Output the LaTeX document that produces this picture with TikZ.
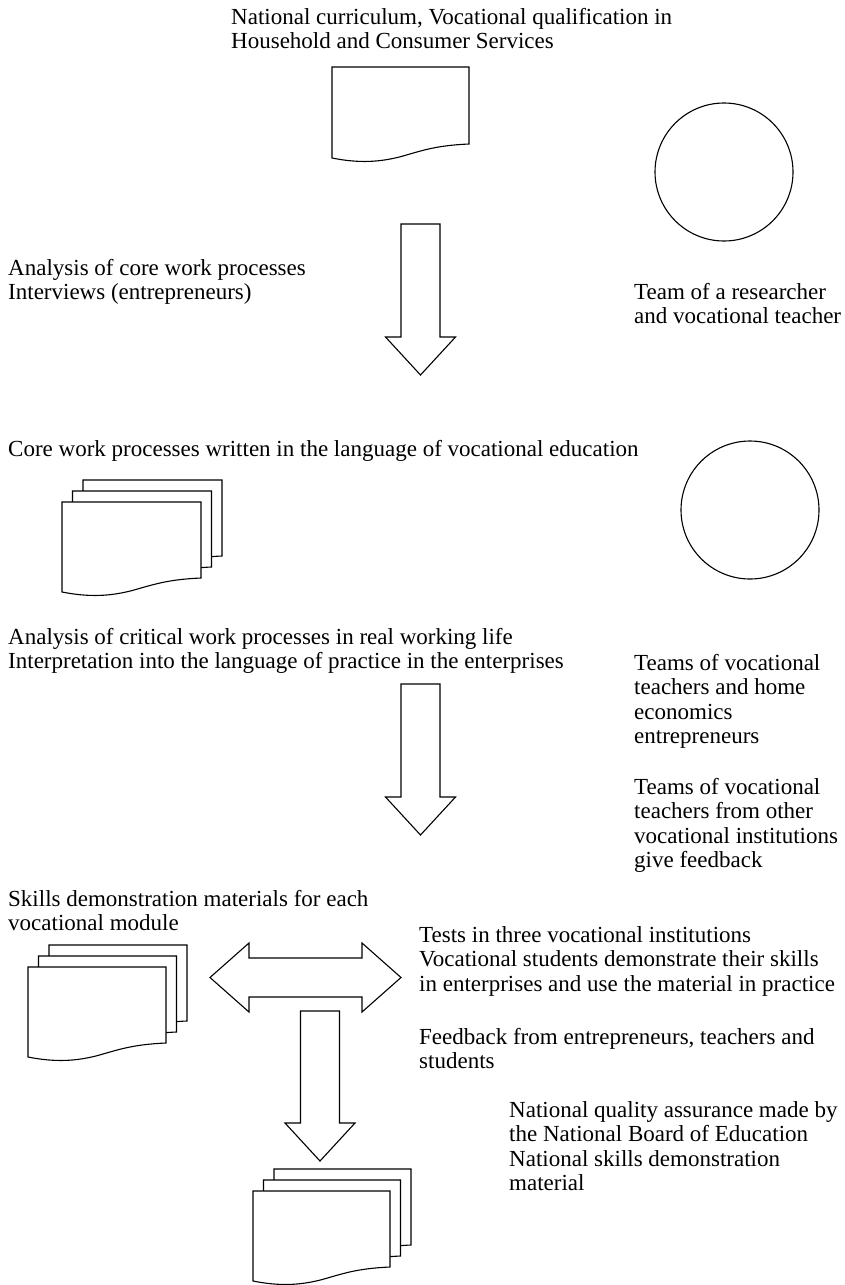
\documentclass[tikz,border=0pt]{standalone}
\usepackage{fontspec}
\setmainfont{Liberation Serif}
\newcommand\lead{24.5}
\begin{document}
\begin{tikzpicture}[x=1pt,y=-1pt,
  shapeline/.style={draw=black,line width=1.1pt,fill=white,line join=miter},
  txt/.style={anchor=base west,align=left,inner sep=0pt,
    font=\fontsize{23}{\lead}\selectfont},
  team/.style={circle,draw=black,line width=1.1pt,inner sep=0pt,minimum size=138pt},
  pics/document/.style n args={2}{code={
    \draw[shapeline] (0,0) -- (#1,0) -- (#1,#2)
      .. controls ({0.75*#1},{#2+1.5}) and ({0.65*#1},{#2+7}) .. ({0.5*#1},{#2+12.7})
      .. controls ({0.35*#1},{#2+18}) and ({0.2*#1},{#2+19.5}) .. (0,{#2+14}) -- cycle;
  }},
  pics/stack/.style n args={2}{code={
    \pic at (21,-22) {document={#1}{#2}};
    \pic at (10.5,-11) {document={#1}{#2}};
    \pic at (0,0) {document={#1}{#2}};
  }}
]
\useasboundingbox (0,0) rectangle (845,1285);

% block arrow pointing down: centre x, top, shaft bottom, tip
\newcommand\downblock[4]{%
  \draw[shapeline] ({#1-19.5},#2) -- ({#1+19.5},#2) -- ({#1+19.5},#3) -- ({#1+35},#3)
    -- (#1,#4) -- ({#1-35},#3) -- ({#1-19.5},#3) -- cycle;}

% documents
\pic at (332,67) {document={137}{77}};
\pic at (62,502) {stack={139}{76}};
\pic at (28,967) {stack={138}{76}};
\pic at (253,1191) {stack={137}{76}};

% teams
\node[team] (teamA) at (724,172) {};
\node[team] (teamB) at (750,510) {};

% process arrows
\downblock{420.5}{224}{337}{375}
\downblock{420.5}{684}{797}{835}
\downblock{320}{1011}{1123}{1161}
\draw[shapeline] (210,977.5) -- (249,943) -- (249,958) -- (362,958) -- (362,943) -- (401,977.5)
  -- (362,1012) -- (362,997) -- (249,997) -- (249,1012) -- cycle;

% texts (node base = baseline of the last line)
\node[txt] (curr) at (231,{24+\lead}) {National curriculum, Vocational qualification in\\Household and Consumer Services};
\node[txt] (anal) at (8,{275+\lead}) {Analysis of core work processes\\Interviews (entrepreneurs)};
\node[txt] (teamtxt) at (634,{299+\lead}) {Team of a researcher\\and vocational teacher};
\node[txt] (core) at (8,456) {Core work processes written in the language of vocational education};
\node[txt] (crit) at (8,{644+\lead}) {Analysis of critical work processes in real working life\\Interpretation into the language of practice in the enterprises};
\node[txt] (teams1) at (634,{670+3*\lead}) {Teams of vocational\\teachers and home\\economics\\entrepreneurs};
\node[txt] (teams2) at (634,{794+3*\lead}) {Teams of vocational\\teachers from other\\vocational institutions\\give feedback};
\node[txt] (skills) at (8,{906+\lead}) {Skills demonstration materials for each\\vocational module};
\node[txt] (tests) at (419,{942+2*\lead}) {Tests in three vocational institutions\\Vocational students demonstrate their skills\\in enterprises and use the material in practice};
\node[txt] (feed) at (419,{1044+\lead}) {Feedback from entrepreneurs, teachers and\\students};
\node[txt] (natq) at (509,{1117+3*\lead}) {National quality assurance made by\\the National Board of Education\\National skills demonstration\\material};
\end{tikzpicture}
\end{document}
